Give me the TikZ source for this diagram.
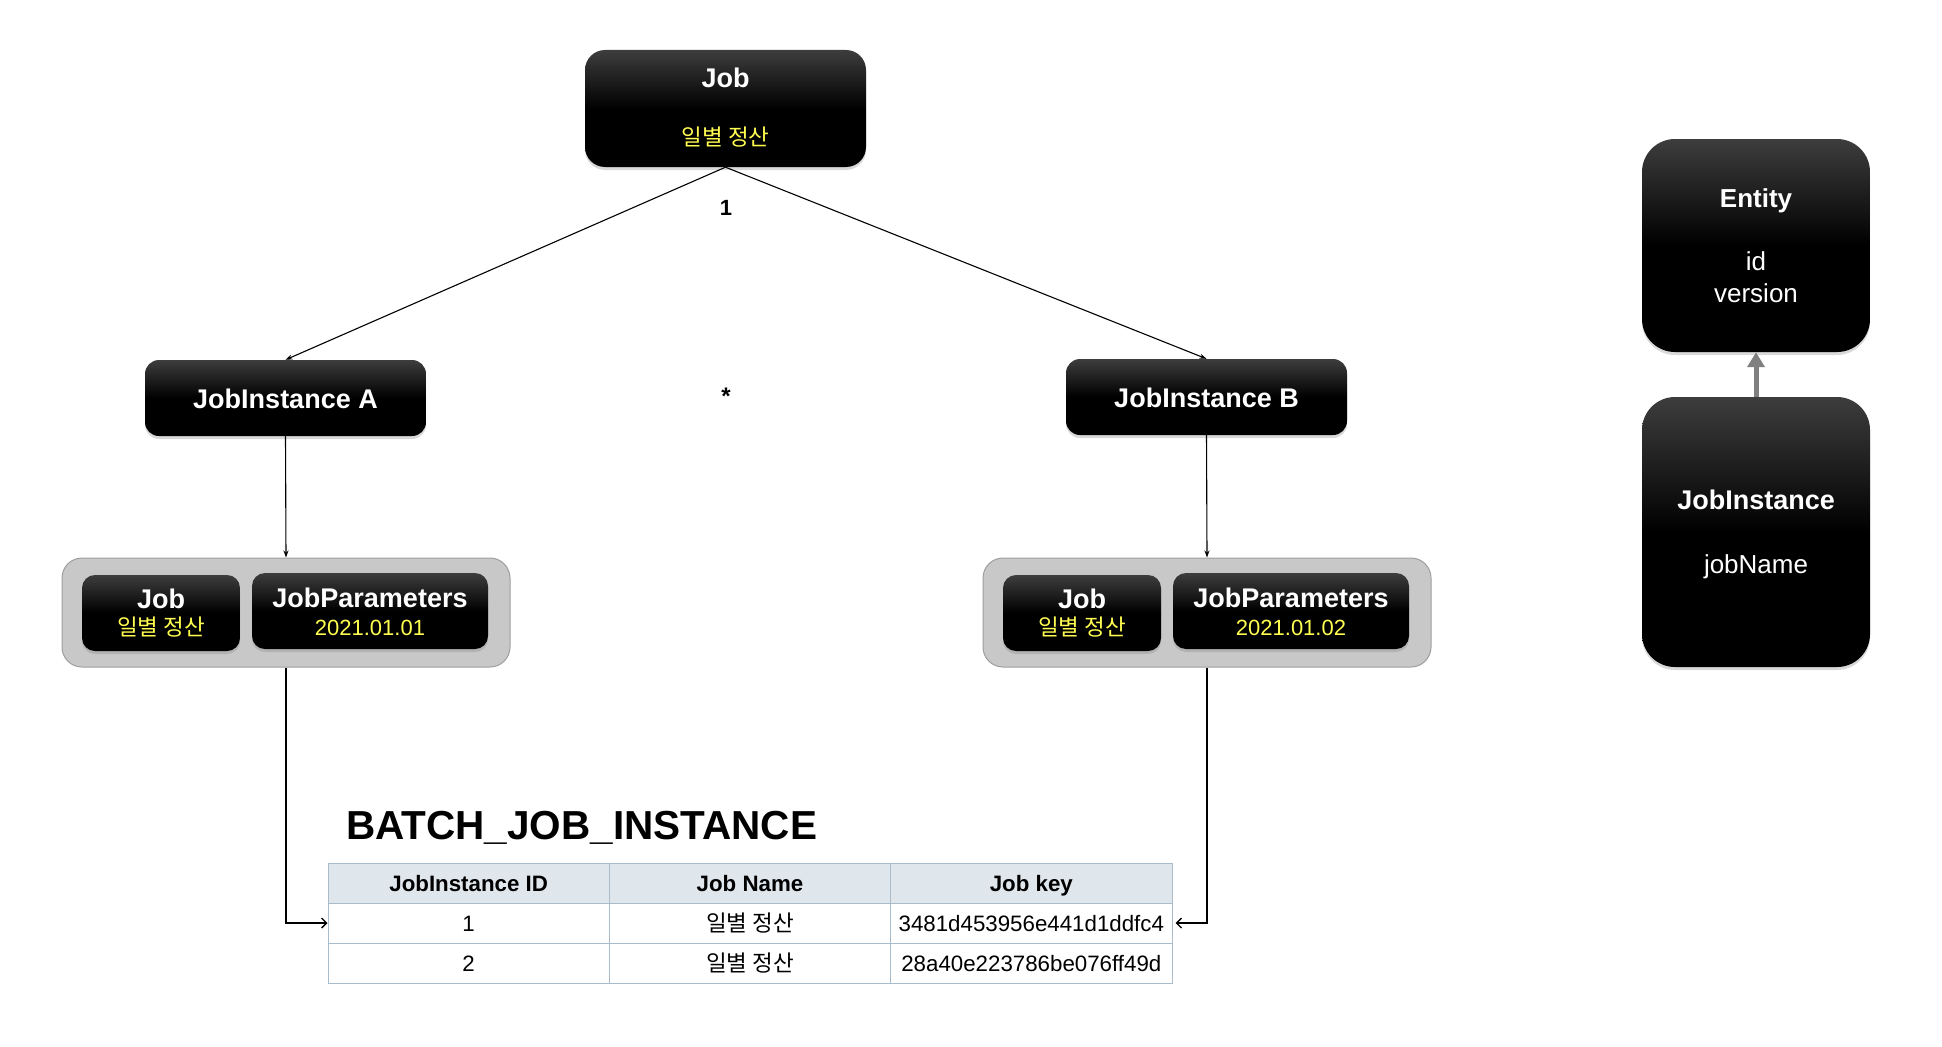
\documentclass[tikz,border=0pt]{standalone}
\usepackage{fontspec}
\setmainfont{Liberation Sans}
\newfontfamily\kr{Noto Sans CJK KR}
\usetikzlibrary{shadows,arrows.meta}
\definecolor{kyel}{RGB}{255,253,80}
\definecolor{tblc}{RGB}{168,188,204}
\definecolor{tblh}{RGB}{223,230,236}
\definecolor{grpfill}{RGB}{200,200,200}
\definecolor{grpline}{RGB}{158,158,158}
\definecolor{arrgray}{RGB}{128,128,128}
\newcommand{\fsz}[1]{\fontsize{#1}{#1}\selectfont}
\begin{document}
\begin{tikzpicture}[x=1pt,y=-1pt,
  darkbox/.style={rectangle, draw=none, inner sep=0pt,
    top color=black!76, bottom color=black, middle color=black,
    drop shadow={shadow xshift=0pt, shadow yshift=-3pt, opacity=0.3}},
  grpbox/.style={rectangle, rounded corners=20pt, fill=grpfill, draw=grpline, line width=1pt, inner sep=0pt},
  wbold/.style={anchor=base, text=white, font=\fsz{27}\bfseries, inner sep=0pt},
  wreg/.style={anchor=base, text=white, font=\fsz{26}, inner sep=0pt},
  yel/.style={anchor=base, text=kyel, font=\fsz{22}, inner sep=0pt},
  ykr/.style={anchor=base, text=kyel, font=\kr\fsz{22.5}, inner sep=0pt},
  conn/.style={draw=black, line width=1.1pt, -{Stealth[length=7pt,width=5pt]}},
  tconn/.style={draw=black, line width=1.4pt, -{Straight Barb[length=5pt,width=10pt]}},
  cell/.style={rectangle, draw=tblc, line width=1pt, minimum width=281.33pt, minimum height=40pt, inner sep=0pt, text height=16pt, text depth=0pt, font=\fsz{22.3}},
  hcell/.style={cell, fill=tblh, font=\fsz{22.3}\bfseries},
  multlabel/.style={anchor=base, font=\fsz{22}\bfseries, inner sep=0pt}
]
\useasboundingbox (0,0) rectangle (1942,1046);

% top Job
\node[darkbox, rounded corners=20pt, minimum width=281pt, minimum height=117pt] (job) at (725.5,108.5) {};
\node[wbold] (jobt1) at (725.5,88) {Job};
\node[ykr] (jobt2) at (725.5,146) {일별 정산};

% job instances
\node[darkbox, rounded corners=14pt, minimum width=281pt, minimum height=76pt] (jiA) at (285.5,398) {};
\node[wbold] (jiAt) at (285.5,408) {JobInstance A};
\node[darkbox, rounded corners=14pt, minimum width=281pt, minimum height=76pt] (jiB) at (1206.5,397) {};
\node[wbold] (jiBt) at (1206.5,407) {JobInstance B};

\node[multlabel] (one) at (726,215) {1};
\node[multlabel, font=\fsz{24}\bfseries] (many) at (726,404) {*};

% groups
\node[grpbox, minimum width=448pt, minimum height=109pt] (grpA) at (286,612.5) {};
\node[darkbox, rounded corners=13pt, minimum width=158pt, minimum height=76pt] (jobA) at (161,613) {};
\node[wbold] (jobAt1) at (161,608) {Job};
\node[ykr] (jobAt2) at (161,635) {일별 정산};
\node[darkbox, rounded corners=13pt, minimum width=236pt, minimum height=76pt] (jpA) at (370,611) {};
\node[wbold] (jpAt1) at (370,607) {JobParameters};
\node[yel] (jpAt2) at (370,635) {2021.01.01};

\node[grpbox, minimum width=448pt, minimum height=109pt] (grpB) at (1207,612.5) {};
\node[darkbox, rounded corners=13pt, minimum width=158pt, minimum height=76pt] (jobB) at (1082,613) {};
\node[wbold] (jobBt1) at (1082,608) {Job};
\node[ykr] (jobBt2) at (1082,635) {일별 정산};
\node[darkbox, rounded corners=13pt, minimum width=236pt, minimum height=76pt] (jpB) at (1291,611) {};
\node[wbold] (jpBt1) at (1291,607) {JobParameters};
\node[yel] (jpBt2) at (1291,635) {2021.01.02};

% table
\node[anchor=base west, font=\fsz{40.5}\bfseries, inner sep=0pt] (title) at (346,839) {BATCH\_JOB\_INSTANCE};
\node[hcell] (h1) at (468.67,883) {JobInstance ID};
\node[hcell] (h2) at (750,883) {Job Name};
\node[hcell] (h3) at (1031.33,883) {Job key};
\node[cell] (r1c1) at (468.67,923) {1};
\node[cell, font=\kr\fsz{22.5}] (r1c2) at (750,923) {일별 정산};
\node[cell] (r1c3) at (1031.33,923) {3481d453956e441d1ddfc4};
\node[cell] (r2c1) at (468.67,963) {2};
\node[cell, font=\kr\fsz{22.5}] (r2c2) at (750,963) {일별 정산};
\node[cell] (r2c3) at (1031.33,963) {28a40e223786be076ff49d};

% entity side
\node[darkbox, rounded corners=33pt, minimum width=228pt, minimum height=213pt] (entity) at (1756,245.5) {};
\node[wbold, font=\fsz{26}\bfseries] (entt1) at (1756,207) {Entity};
\node[wreg] (entt2) at (1756,270) {id};
\node[wreg] (entt3) at (1756,302) {version};
\node[darkbox, rounded corners=33pt, minimum width=228pt, minimum height=270pt] (jinst) at (1756,532) {};
\node[wbold] (jinstt1) at (1756,509) {JobInstance};
\node[wreg] (jinstt2) at (1756,573) {jobName};

% connectors
\draw[conn] (job.south) -- (jiA.north);
\draw[conn] (job.south) -- (jiB.north);
\draw[conn] (jiA.south) -- (grpA.north);
\draw[conn] (jiB.south) -- (grpB.north);
\draw[tconn] (grpA.south) |- (r1c1.west);
\draw[tconn] (grpB.south) |- ([xshift=3pt]r1c3.east);
\draw[line width=5pt, draw=arrgray, -{Triangle[length=15pt,width=17pt]}] (jinst.north) -- (entity.south);
\end{tikzpicture}
\end{document}
